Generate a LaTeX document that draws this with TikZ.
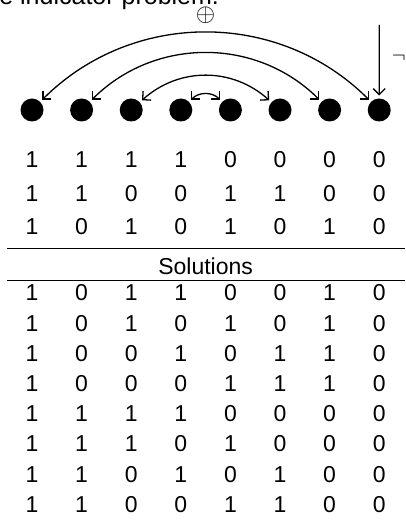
\documentclass[tikz,border=0pt]{standalone}
\usepackage{fontspec}
\setmainfont{Liberation Sans}
\usepackage{tikz}
\usetikzlibrary{arrows.meta}

\tikzset{
    dot/.style={circle, fill, inner sep=0pt, minimum size=23pt, outer sep=3pt},
    bit/.style={font=\fontsize{23}{27}\selectfont, inner sep=0pt},
    barb/.tip={Straight Barb[length=6pt, width=12pt]},
    swap/.style={line width=1.3pt, {barb}-{barb}},
}

\begin{document}
\begin{tikzpicture}[x=1pt, y=1pt]
    \useasboundingbox (0,0) rectangle (405,-526);
    \clip (0,0) rectangle (405,-526);
    \node[anchor=base west, inner sep=0pt, font=\fontsize{25}{30}\selectfont] (title) at (-30,-5) {The indicator problem.};
    \foreach \i in {1,...,8}
        \node[dot] (d\i) at (\i*49.6-17.6, -110) {};
    \draw[swap] (d1) to[bend left=45] (d8);
    \draw[swap] (d2) to[bend left=45] (d7);
    \draw[swap] (d3) to[bend left=42] (d6);
    \draw[swap] (d4) to[bend left=45] (d5);
    \node[font=\fontsize{28}{32}\selectfont, inner sep=0pt] (xor) at (205.6,-15.5) {$\oplus$};
    \coordinate (top) at (379.2,-25);
    \draw[line width=1.3pt, -{barb}] (top) -- (d8);
    \node[anchor=north east, inner sep=0pt, font=\fontsize{22}{26}\selectfont] (neg) at (406,-53) {$\neg$};
    \foreach \bits [count=\row] in {{1,1,1,1,0,0,0,0},{1,1,0,0,1,1,0,0},{1,0,1,0,1,0,1,0}}
        \foreach \b [count=\col] in \bits
            \node[bit] (t\row-\col) at (\col*49.6-17.6, -126.5-33.5*\row) {\b};
    \draw[line width=0.9pt] (7,-248) -- (405,-248);
    \node[bit] (sol) at (205.6,-266) {Solutions};
    \draw[line width=0.9pt] (7,-280) -- (405,-280);
    \foreach \bits [count=\row] in {{1,0,1,1,0,0,1,0},{1,0,1,0,1,0,1,0},{1,0,0,1,0,1,1,0},{1,0,0,0,1,1,1,0},
                                    {1,1,1,1,0,0,0,0},{1,1,1,0,1,0,0,0},{1,1,0,1,0,1,0,0},{1,1,0,0,1,1,0,0}}
        \foreach \b [count=\col] in \bits
            \node[bit] (s\row-\col) at (\col*49.6-17.6, -262.8-30.2*\row) {\b};
\end{tikzpicture}
\end{document}
